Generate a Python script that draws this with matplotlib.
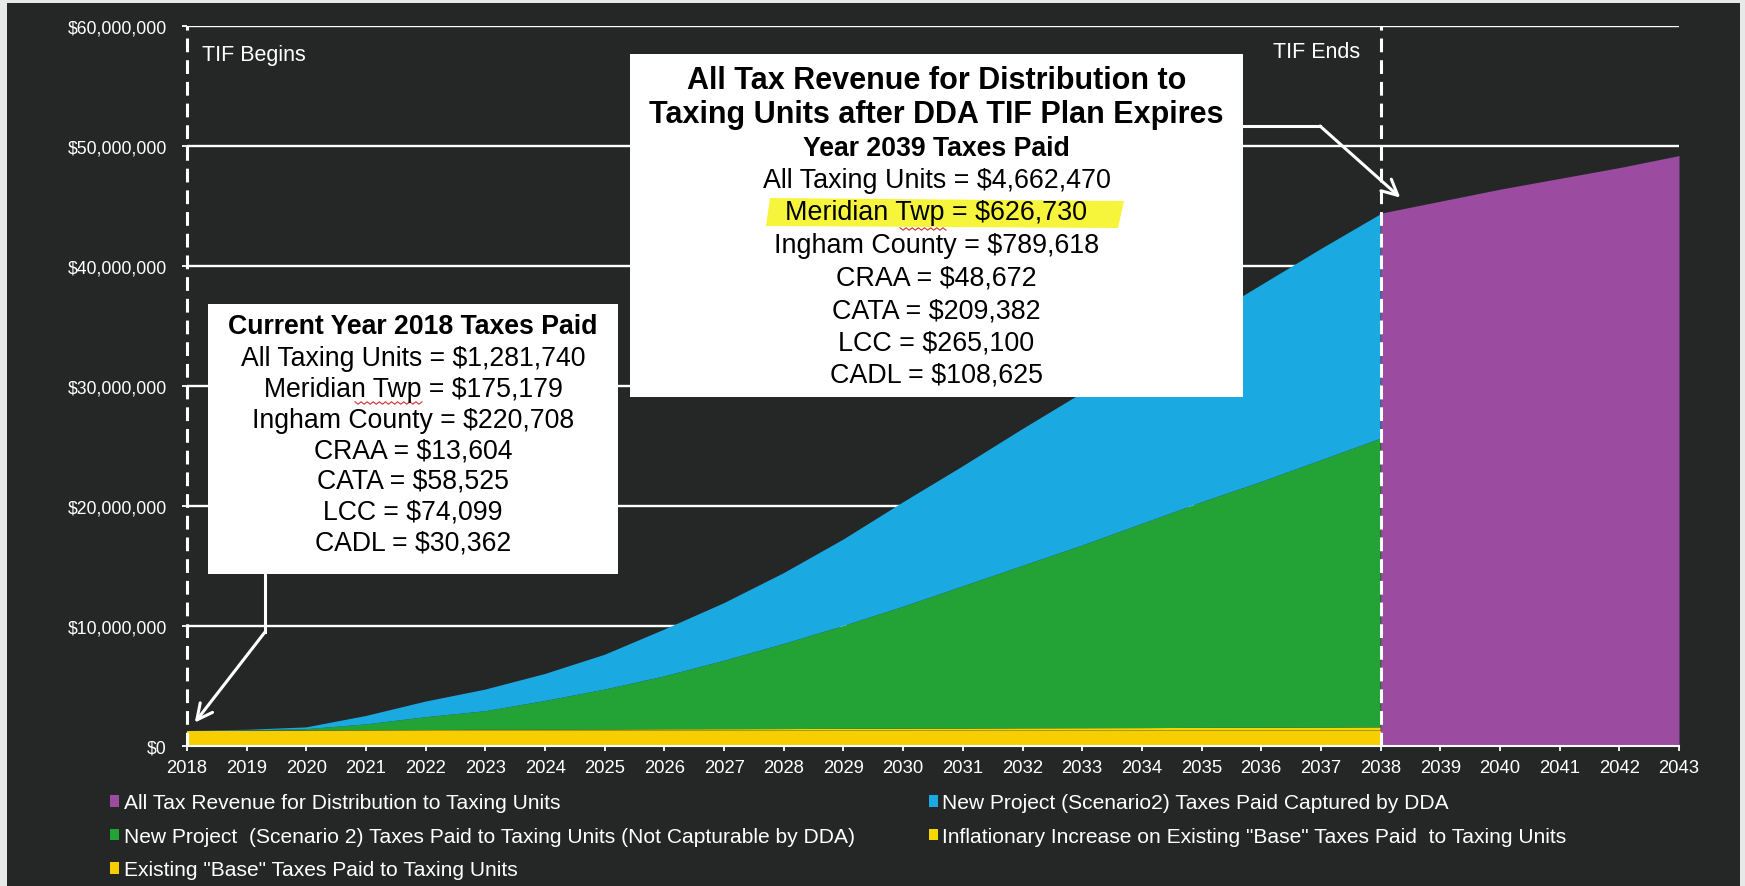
import matplotlib
matplotlib.use('Agg')
from matplotlib import pyplot as plt
from matplotlib.patches import Rectangle, Polygon, Patch
from matplotlib.lines import Line2D
from matplotlib.ticker import FuncFormatter
import numpy as np

plt.rcParams['font.family'] = ['Liberation Sans', 'DejaVu Sans']

# values in millions of dollars
tif_years = list(range(2018, 2039))
base_m = [1.28, 1.28, 1.28, 1.28, 1.28, 1.28, 1.28, 1.28, 1.28, 1.28, 1.28,
          1.28, 1.28, 1.28, 1.28, 1.28, 1.28, 1.28, 1.28, 1.28, 1.28]
infl_m = [0.00, 0.01, 0.03, 0.04, 0.05, 0.07, 0.08, 0.09, 0.11, 0.12, 0.13,
          0.15, 0.16, 0.17, 0.19, 0.20, 0.21, 0.23, 0.24, 0.25, 0.27]
green_m = [0.00, 0.01, 0.09, 0.48, 1.07, 1.55, 2.39, 3.33, 4.41, 5.70, 7.09,
           8.57, 10.16, 11.85, 13.53, 15.22, 17.01, 18.79, 20.48, 22.27, 24.05]
blue_m = [0.00, 0.05, 0.15, 0.70, 1.30, 1.80, 2.25, 2.90, 3.90, 4.80, 5.90,
          7.20, 8.70, 10.00, 11.40, 12.70, 13.90, 15.10, 16.40, 17.60, 18.70]
post_years = [2038, 2039, 2040, 2041, 2042, 2043]
purple_m = [44.4, 45.4, 46.4, 47.3, 48.2, 49.2]

legend_labels = [
    'All Tax Revenue for Distribution to Taxing Units',
    'New Project  (Scenario 2) Taxes Paid to Taxing Units (Not Capturable by DDA)',
    'Existing "Base" Taxes Paid to Taxing Units',
    'New Project (Scenario2) Taxes Paid Captured by DDA',
    'Inflationary Increase on Existing "Base" Taxes Paid  to Taxing Units',
]

box_2018_title = 'Current Year 2018 Taxes Paid'
box_2018_lines = ['All Taxing Units = $1,281,740', 'Meridian Twp = $175,179',
                  'Ingham County = $220,708', 'CRAA = $13,604', 'CATA = $58,525',
                  'LCC = $74,099', 'CADL = $30,362']
box_2039_title = ['All Tax Revenue for Distribution to',
                  'Taxing Units after DDA TIF Plan Expires']
box_2039_sub = 'Year 2039 Taxes Paid'
box_2039_lines = ['All Taxing Units = $4,662,470', 'Meridian Twp = $626,730',
                  'Ingham County = $789,618', 'CRAA = $48,672', 'CATA = $209,382',
                  'LCC = $265,100', 'CADL = $108,625']

c_purple = '#9b4ba0'
c_blue = '#1ba9e2'
c_green = '#23a235'
c_base = '#f7cf00'
c_infl = '#f5d800'
bg = '#252727'

W, H = 1745, 887


def fx(x):
    return x / W


def fy(y):
    return 1 - y / H


fig = plt.figure(figsize=(W / 100, H / 100), dpi=100, facecolor='#e8e8e8')
fig.add_artist(Rectangle((fx(7), fy(887)), fx(1740) - fx(7), fy(4) - fy(887),
                         transform=fig.transFigure, facecolor=bg, edgecolor='none', zorder=0))

ax = fig.add_axes([fx(187), fy(747), fx(1679) - fx(187), fy(27) - fy(747)])
ax.set_facecolor(bg)

ax.stackplot(tif_years, np.array(base_m) * 1e6, np.array(infl_m) * 1e6,
             np.array(green_m) * 1e6, np.array(blue_m) * 1e6,
             colors=[c_base, c_infl, c_green, c_blue], lw=0, zorder=2)
ax.fill_between(post_years, 0, np.array(purple_m) * 1e6, color=c_purple, lw=0, zorder=2)

ax.set_xlim(2018, 2043)
ax.set_ylim(0, 60e6)
ax.set_xticks(range(2018, 2044))
ax.set_yticks(np.arange(0, 60e6 + 1, 10e6))
ax.yaxis.set_major_formatter(FuncFormatter(lambda v, p: '${:,.0f}'.format(v)))
ax.set_axisbelow(True)
ax.yaxis.grid(True, color='white', lw=1.7, zorder=1)

for s in ['top', 'right', 'left']:
    ax.spines[s].set_visible(False)
ax.spines['bottom'].set_color('white')
ax.spines['bottom'].set_linewidth(1.5)
ax.spines['bottom'].set_zorder(3)
ax.tick_params(axis='x', colors='white', labelsize=13.3, length=3.5, width=1.3, pad=6)
ax.tick_params(axis='y', colors='white', labelsize=12.7, length=3.5, width=1.3, pad=11)

for yr in (2018, 2038):
    ax.axvline(yr, color='white', lw=2.2, ls=(0, (4.5, 2.6)), zorder=4, clip_on=False)

fig.text(fx(202), fy(55), 'TIF Begins', color='white', fontsize=15.5, va='center', ha='left')
fig.text(fx(1360), fy(52), 'TIF Ends', color='white', fontsize=15.5, va='center', ha='right')

# callout boxes
fig.add_artist(Rectangle((fx(208), fy(575)), fx(618) - fx(208), fy(305) - fy(575),
                         transform=fig.transFigure, facecolor='white', edgecolor='none', zorder=5))
fig.add_artist(Rectangle((fx(630), fy(398)), fx(1243) - fx(630), fy(55) - fy(398),
                         transform=fig.transFigure, facecolor='white', edgecolor='none', zorder=5))

# highlighter stroke
fig.add_artist(Polygon([(fx(770), fy(199)), (fx(1124), fy(202)), (fx(1118), fy(229)), (fx(766), fy(227))],
                       closed=True, transform=fig.transFigure, facecolor='#f6f53c',
                       edgecolor='none', zorder=5.5))

cx = (208 + 618) / 2
fig.text(fx(cx), fy(327), box_2018_title, fontsize=19.2, fontweight='bold', ha='center',
         va='center', zorder=6)
for i, line in enumerate(box_2018_lines):
    fig.text(fx(cx), fy(359.5 + i * 30.6), line, fontsize=19.2, ha='center', va='center', zorder=6)

cx = (630 + 1243) / 2
for i, line in enumerate(box_2039_title):
    fig.text(fx(cx), fy(81 + i * 34), line, fontsize=22, fontweight='bold', ha='center',
             va='center', zorder=6)
fig.text(fx(cx), fy(149), box_2039_sub, fontsize=19.2, fontweight='bold', ha='center',
         va='center', zorder=6)
for i, line in enumerate(box_2039_lines):
    fig.text(fx(cx), fy(181 + i * 32.5), line, fontsize=19.4, ha='center', va='center', zorder=6)

# spell-check squiggles under "Twp"
for x0, x1, y0 in ((355, 422, 404), (900, 946, 230)):
    xs = np.linspace(x0, x1, int((x1 - x0) / 3) + 1)
    ys = y0 + np.where(np.arange(len(xs)) % 2 == 0, -1.2, 1.2)
    fig.add_artist(Line2D(fx(xs), fy(ys), transform=fig.transFigure, color='#d03030',
                          lw=0.8, zorder=6))

# arrows
fig.add_artist(Line2D([fx(265), fx(265)], [fy(575), fy(633)], transform=fig.transFigure,
                      color='white', lw=2.2, zorder=6))
ax.annotate('', xy=(2018.13, 1.95e6), xycoords='data', xytext=(fx(265), fy(633)),
            textcoords='figure fraction', zorder=6,
            arrowprops=dict(arrowstyle='->', color='white', lw=2.2, mutation_scale=28,
                            shrinkA=0, shrinkB=0))
fig.add_artist(Line2D([fx(1243), fx(1320)], [fy(127), fy(127)], transform=fig.transFigure,
                      color='white', lw=2.2, zorder=6))
ax.annotate('', xy=(2038.33, 45.7e6), xycoords='data', xytext=(fx(1320), fy(127)),
            textcoords='figure fraction', zorder=6,
            arrowprops=dict(arrowstyle='->', color='white', lw=2.2, mutation_scale=28,
                            shrinkA=0, shrinkB=0))

handles = [Patch(facecolor=c) for c in (c_purple, c_green, c_base, c_blue, c_infl)]
fig.legend(handles, legend_labels, loc='upper left', bbox_to_anchor=(fx(110), fy(794.5)),
           ncol=2, frameon=False, fontsize=15.1, labelcolor='white', handlelength=0.45,
           handleheight=0.45, handletextpad=0.2, columnspacing=3.53, labelspacing=0.69,
           borderpad=0, borderaxespad=0)

fig.savefig('out.png', dpi=100, facecolor=fig.get_facecolor())
